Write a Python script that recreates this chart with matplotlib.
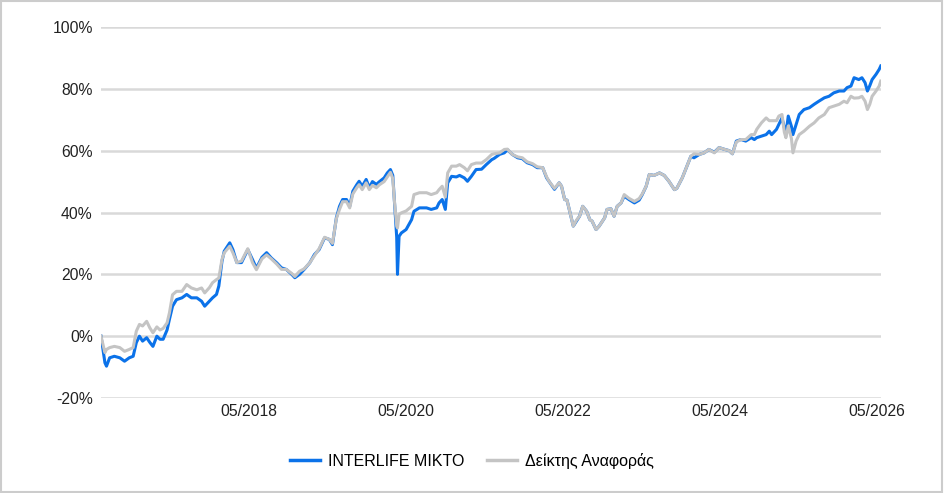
import matplotlib
matplotlib.use("Agg")
import matplotlib.pyplot as plt
import matplotlib.dates as mdates
from matplotlib.patches import Rectangle
import pandas as pd

plt.rcParams['font.family'] = ['Liberation Sans', 'DejaVu Sans']

years = [
    2016.44, 2016.49, 2016.51, 2016.55, 2016.61, 2016.68, 2016.74, 2016.80, 2016.85, 2016.89,
    2016.93, 2016.97, 2017.02, 2017.06, 2017.10, 2017.15, 2017.19, 2017.23, 2017.28, 2017.31,
    2017.35, 2017.40, 2017.47, 2017.53, 2017.59, 2017.66, 2017.72, 2017.76, 2017.82, 2017.86,
    2017.91, 2017.94, 2017.98, 2018.01, 2018.08, 2018.12, 2018.17, 2018.23, 2018.31, 2018.37,
    2018.42, 2018.49, 2018.55, 2018.61, 2018.68, 2018.74, 2018.80, 2018.87, 2018.91, 2018.97,
    2019.03, 2019.10, 2019.16, 2019.22, 2019.29, 2019.35, 2019.39, 2019.44, 2019.48, 2019.52,
    2019.57, 2019.61, 2019.65, 2019.70, 2019.73, 2019.77, 2019.82, 2019.86, 2019.90, 2019.95,
    2019.99, 2020.05, 2020.09, 2020.13, 2020.16, 2020.18, 2020.21, 2020.22, 2020.24, 2020.27,
    2020.33, 2020.40, 2020.43, 2020.50, 2020.59, 2020.65, 2020.72, 2020.75, 2020.79, 2020.83,
    2020.86, 2020.91, 2020.97, 2021.01, 2021.07, 2021.11, 2021.16, 2021.22, 2021.29, 2021.35,
    2021.42, 2021.45, 2021.52, 2021.58, 2021.62, 2021.68, 2021.75, 2021.81, 2021.87, 2021.94,
    2022.00, 2022.07, 2022.12, 2022.15, 2022.22, 2022.28, 2022.31, 2022.35, 2022.38, 2022.43,
    2022.46, 2022.50, 2022.54, 2022.58, 2022.63, 2022.67, 2022.70, 2022.75, 2022.79, 2022.86,
    2022.89, 2022.94, 2022.98, 2023.02, 2023.07, 2023.11, 2023.17, 2023.24, 2023.30, 2023.34,
    2023.39, 2023.43, 2023.49, 2023.56, 2023.62, 2023.68, 2023.75, 2023.78, 2023.85, 2023.91,
    2023.96, 2024.00, 2024.07, 2024.13, 2024.19, 2024.26, 2024.32, 2024.38, 2024.45, 2024.49,
    2024.54, 2024.60, 2024.66, 2024.73, 2024.77, 2024.80, 2024.86, 2024.92, 2024.96, 2024.99,
    2025.05, 2025.08, 2025.12, 2025.15, 2025.17, 2025.20, 2025.24, 2025.26, 2025.30, 2025.34,
    2025.40, 2025.47, 2025.53, 2025.59, 2025.66, 2025.72, 2025.78, 2025.85, 2025.91, 2025.95,
    2026.00, 2026.04, 2026.10, 2026.14, 2026.18, 2026.21, 2026.24, 2026.27, 2026.32, 2026.36,
    2026.38,
]

# cumulative return (%) of the fund
fund = [
    0.0, -8.6, -9.7, -7.0, -6.5, -7.0, -8.1, -7.0, -6.5, -2.1,
    0.0, -1.6, -0.5, -2.0, -3.3, 0.0, -1.0, -1.0, 2.0, 5.4,
    9.7, 11.8, 12.4, 13.5, 12.4, 12.4, 11.3, 9.7, 11.3, 12.4,
    13.5, 16.2, 24.2, 27.5, 30.2, 28.0, 23.8, 23.8, 28.0, 24.8,
    22.0, 25.5, 27.0, 25.3, 23.7, 22.1, 21.6, 20.0, 18.9, 20.0,
    21.6, 23.7, 26.4, 28.0, 31.8, 31.3, 29.6, 38.3, 42.0, 44.2,
    44.2, 42.0, 46.9, 49.0, 50.1, 48.5, 50.7, 48.0, 50.0, 49.1,
    50.0, 51.2, 52.8, 53.9, 52.0, 44.2, 32.0, 20.0, 32.3, 33.4,
    34.5, 37.7, 40.4, 41.5, 41.5, 41.0, 41.5, 43.1, 44.2, 41.0,
    49.6, 51.7, 51.5, 52.0, 51.2, 50.1, 51.7, 53.9, 54.0, 55.5,
    57.1, 57.5, 58.8, 59.3, 60.3, 58.8, 57.7, 57.4, 56.1, 55.5,
    54.5, 54.5, 51.2, 50.1, 47.5, 49.6, 48.5, 44.2, 44.0, 38.8,
    35.6, 37.2, 38.8, 42.0, 40.4, 37.7, 37.2, 34.5, 35.6, 38.3,
    41.0, 41.2, 38.8, 42.0, 43.1, 45.3, 44.2, 43.1, 44.0, 45.8,
    48.5, 52.3, 52.0, 52.8, 52.0, 50.1, 47.4, 47.8, 51.2, 55.0,
    58.2, 57.7, 58.8, 59.3, 60.4, 59.5, 61.0, 60.5, 60.0, 59.0,
    63.1, 63.6, 63.1, 64.2, 63.6, 64.2, 64.7, 65.2, 66.3, 65.2,
    66.9, 68.5, 70.6, 67.5, 65.2, 71.2, 67.9, 65.2, 68.5, 71.7,
    73.3, 73.9, 75.0, 76.0, 77.1, 77.6, 78.7, 79.3, 79.3, 80.4,
    80.9, 83.6, 83.0, 83.6, 82.0, 79.3, 81.0, 83.0, 84.7, 86.3,
    87.4,
]

# cumulative return (%) of the benchmark
bench = [
    0.0, -5.3, -4.3, -3.7, -3.3, -3.7, -4.9, -4.3, -3.7, 1.6,
    3.8, 3.3, 4.8, 2.7, 1.1, 3.0, 2.0, 2.5, 4.3, 7.5,
    13.4, 14.5, 14.5, 16.7, 15.6, 15.0, 15.6, 14.0, 15.7, 17.3,
    18.3, 18.8, 24.8, 27.0, 29.1, 27.0, 23.8, 24.3, 28.3, 23.8,
    21.5, 25.0, 26.3, 25.0, 23.3, 21.6, 21.6, 20.3, 19.3, 21.0,
    21.8, 23.7, 26.0, 28.3, 32.0, 31.3, 30.0, 38.0, 41.0, 43.5,
    43.5, 41.5, 46.0, 48.0, 49.0, 47.4, 49.6, 47.4, 48.8, 48.0,
    49.0, 50.0, 51.5, 53.0, 51.0, 44.0, 35.6, 35.0, 39.4, 39.9,
    40.5, 42.0, 45.8, 46.4, 46.4, 45.8, 46.4, 47.4, 48.5, 45.0,
    52.8, 55.0, 55.0, 55.5, 54.5, 53.5, 55.5, 56.0, 56.0, 57.1,
    58.8, 59.0, 59.3, 60.4, 60.5, 58.8, 58.0, 57.7, 56.4, 55.8,
    54.8, 54.5, 51.5, 50.1, 47.8, 49.6, 48.5, 44.2, 44.0, 38.8,
    35.6, 37.5, 38.8, 42.0, 40.4, 37.7, 37.2, 34.5, 35.6, 38.3,
    41.0, 41.2, 38.8, 42.0, 43.1, 45.8, 44.6, 43.6, 44.5, 46.0,
    48.5, 52.3, 52.0, 52.8, 52.0, 50.1, 47.4, 47.8, 51.2, 55.0,
    58.2, 59.0, 58.8, 59.3, 60.4, 59.3, 61.0, 60.5, 60.0, 59.0,
    62.8, 63.6, 63.6, 65.2, 65.2, 66.9, 69.0, 70.6, 69.7, 69.7,
    69.7, 71.2, 71.7, 66.0, 64.2, 68.0, 64.0, 59.3, 63.1, 65.2,
    66.3, 67.9, 69.0, 70.6, 71.7, 73.9, 74.4, 75.0, 76.0, 75.5,
    77.6, 77.0, 77.1, 77.6, 76.0, 73.3, 75.0, 77.6, 79.3, 80.9,
    82.5,
]

labels = ['INTERLIFE ΜΙΚΤΟ', 'Δείκτης Αναφοράς']
colors = ['#0b72e9', '#c4c4c4']


def to_date(y):
    yr = int(y)
    start = pd.Timestamp(year=yr, month=1, day=1)
    return start + pd.Timedelta(days=(y - yr) * 365.25)


dates = [to_date(y) for y in years]

fig = plt.figure(figsize=(9.44, 4.93), dpi=100)
ax = fig.add_axes([0.107, 0.1927, 0.826, 0.7525])

ax.plot(dates, fund, color=colors[0], lw=2.2, label=labels[0], zorder=2)
ax.plot(dates, bench, color=colors[1], lw=2.2, label=labels[1], zorder=3)

ax.set_ylim(-20, 100)
ax.set_yticks(range(-20, 101, 20))
ax.yaxis.set_major_formatter(plt.FuncFormatter(lambda v, p: f'{v:.0f}%'))
ax.set_xlim(dates[0], dates[-1])
ax.xaxis.set_major_locator(mdates.YearLocator(base=2, month=5, day=1))
ax.xaxis.set_major_formatter(mdates.DateFormatter('%m/%Y'))

ax.grid(axis='y', color='#d9d9d9', lw=1.8)
ax.set_axisbelow(True)
for s in ax.spines.values():
    s.set_visible(False)
ax.tick_params(length=0, labelsize=11.3, colors='#222222')
ax.tick_params(axis='y', pad=6)
ax.tick_params(axis='x', pad=4)

handles = [plt.Line2D([], [], color=c, lw=2.5) for c in colors]
fig.legend(handles, labels, loc='center', bbox_to_anchor=(0.5, 0.065), ncol=2,
           frameon=False, fontsize=11.5, handlelength=1.9, columnspacing=1.4,
           handletextpad=0.5)

fig.patches.append(Rectangle((0.001, 0.002), 0.997, 0.995, transform=fig.transFigure,
                             fill=False, edgecolor='#cccccc', lw=1.5))

fig.savefig('out.png', dpi=100, facecolor='white')
